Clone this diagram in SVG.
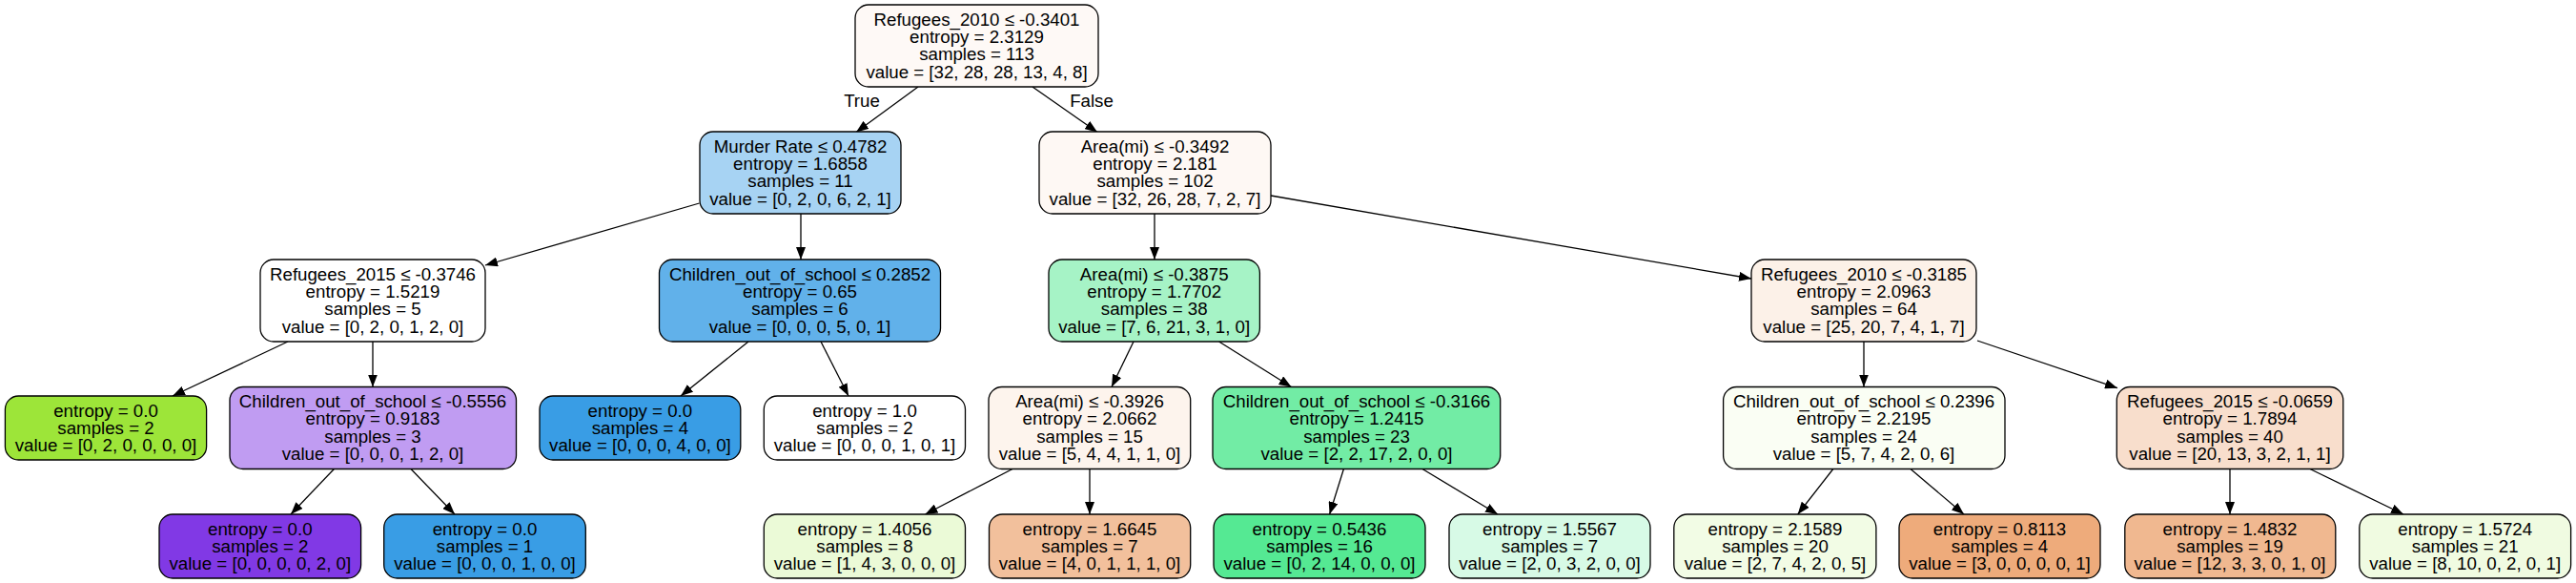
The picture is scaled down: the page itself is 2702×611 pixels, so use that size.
<svg xmlns="http://www.w3.org/2000/svg" width="2702" height="611" viewBox="0 0 2702 611">
<style>
.box{stroke:#000;stroke-width:1.3}
text{font-family:"Liberation Sans",Arial,sans-serif;font-size:18.7px;fill:#000;text-anchor:middle}
.edge{stroke:#000;stroke-width:1.3;fill:none;marker-end:url(#arr)}
</style>
<defs>
<marker id="arr" viewBox="0 0 13 10" refX="13" refY="5" markerWidth="13" markerHeight="10" markerUnits="userSpaceOnUse" orient="auto">
<path d="M0,0 L13,5 L0,10 z" fill="#000"/>
</marker>
</defs>
<rect width="2702" height="611" fill="#fff"/>
<g id="connectors">
<line class="edge" x1="963" y1="91" x2="898" y2="138.5"/>
<line class="edge" x1="1083" y1="91" x2="1151" y2="138.5"/>
<line class="edge" x1="733.5" y1="213" x2="509" y2="278"/>
<line class="edge" x1="840" y1="224" x2="840" y2="272"/>
<line class="edge" x1="1211" y1="224" x2="1211" y2="272"/>
<line class="edge" x1="1333" y1="205" x2="1837" y2="292"/>
<line class="edge" x1="302" y1="358" x2="181" y2="415"/>
<line class="edge" x1="391" y1="358" x2="391" y2="405.5"/>
<line class="edge" x1="785" y1="358" x2="714" y2="415"/>
<line class="edge" x1="861" y1="358" x2="890" y2="415"/>
<line class="edge" x1="1189" y1="358" x2="1166" y2="405.5"/>
<line class="edge" x1="1278.6" y1="358" x2="1354.5" y2="405.5"/>
<line class="edge" x1="1955" y1="358" x2="1955" y2="405.5"/>
<line class="edge" x1="2074" y1="357" x2="2221" y2="406.7"/>
<line class="edge" x1="350.4" y1="491.5" x2="305" y2="539"/>
<line class="edge" x1="431" y1="491.5" x2="477" y2="539"/>
<line class="edge" x1="1062" y1="491.5" x2="970.5" y2="539"/>
<line class="edge" x1="1143" y1="491.5" x2="1143" y2="539"/>
<line class="edge" x1="1409.4" y1="491.5" x2="1394.6" y2="539"/>
<line class="edge" x1="1492" y1="491.5" x2="1571" y2="539"/>
<line class="edge" x1="1922.8" y1="491.5" x2="1885.7" y2="539"/>
<line class="edge" x1="2004" y1="491.5" x2="2060" y2="539"/>
<line class="edge" x1="2339" y1="491.5" x2="2339" y2="539"/>
<line class="edge" x1="2423" y1="491.5" x2="2521" y2="539"/>
<text x="904" y="111.5">True</text>
<text x="1145" y="111.5">False</text>
</g>
<g id="n0"><rect class="box" x="897" y="5" width="255" height="86" rx="14" fill="#fef9f6"/>
<text x="1024.5" y="26.5">Refugees_2010 ≤ -0.3401</text><text x="1024.5" y="44.9">entropy = 2.3129</text><text x="1024.5" y="63.3">samples = 113</text><text x="1024.5" y="81.7">value = [32, 28, 28, 13, 4, 8]</text></g>
<g id="n1"><rect class="box" x="734" y="138" width="211" height="86" rx="14" fill="#a7d3f3"/>
<text x="839.5" y="159.5">Murder Rate ≤ 0.4782</text><text x="839.5" y="177.9">entropy = 1.6858</text><text x="839.5" y="196.3">samples = 11</text><text x="839.5" y="214.7">value = [0, 2, 0, 6, 2, 1]</text></g>
<g id="n2"><rect class="box" x="1090" y="138" width="243" height="86" rx="14" fill="#fef8f4"/>
<text x="1211.5" y="159.5">Area(mi) ≤ -0.3492</text><text x="1211.5" y="177.9">entropy = 2.181</text><text x="1211.5" y="196.3">samples = 102</text><text x="1211.5" y="214.7">value = [32, 26, 28, 7, 2, 7]</text></g>
<g id="n3"><rect class="box" x="273" y="272" width="236" height="86" rx="14" fill="#ffffff"/>
<text x="391" y="293.5">Refugees_2015 ≤ -0.3746</text><text x="391" y="311.9">entropy = 1.5219</text><text x="391" y="330.3">samples = 5</text><text x="391" y="348.7">value = [0, 2, 0, 1, 2, 0]</text></g>
<g id="n4"><rect class="box" x="691.5" y="272" width="295" height="86" rx="14" fill="#61b1ea"/>
<text x="839" y="293.5">Children_out_of_school ≤ 0.2852</text><text x="839" y="311.9">entropy = 0.65</text><text x="839" y="330.3">samples = 6</text><text x="839" y="348.7">value = [0, 0, 0, 5, 0, 1]</text></g>
<g id="n5"><rect class="box" x="1100" y="272" width="221.4" height="86" rx="14" fill="#a6f3c6"/>
<text x="1210.7" y="293.5">Area(mi) ≤ -0.3875</text><text x="1210.7" y="311.9">entropy = 1.7702</text><text x="1210.7" y="330.3">samples = 38</text><text x="1210.7" y="348.7">value = [7, 6, 21, 3, 1, 0]</text></g>
<g id="n6"><rect class="box" x="1837" y="272" width="236" height="86" rx="14" fill="#fcf1e8"/>
<text x="1955" y="293.5">Refugees_2010 ≤ -0.3185</text><text x="1955" y="311.9">entropy = 2.0963</text><text x="1955" y="330.3">samples = 64</text><text x="1955" y="348.7">value = [25, 20, 7, 4, 1, 7]</text></g>
<g id="n7"><rect class="box" x="5.4" y="415" width="211.2" height="67" rx="14" fill="#9de539"/>
<text x="111" y="436.5">entropy = 0.0</text><text x="111" y="454.9">samples = 2</text><text x="111" y="473.3">value = [0, 2, 0, 0, 0, 0]</text></g>
<g id="n8"><rect class="box" x="241" y="405.5" width="300.5" height="86" rx="14" fill="#c09cf2"/>
<text x="391" y="427">Children_out_of_school ≤ -0.5556</text><text x="391" y="445.4">entropy = 0.9183</text><text x="391" y="463.8">samples = 3</text><text x="391" y="482.2">value = [0, 0, 0, 1, 2, 0]</text></g>
<g id="n9"><rect class="box" x="566" y="415" width="210.8" height="67" rx="14" fill="#399de5"/>
<text x="671.4" y="436.5">entropy = 0.0</text><text x="671.4" y="454.9">samples = 4</text><text x="671.4" y="473.3">value = [0, 0, 0, 4, 0, 0]</text></g>
<g id="n10"><rect class="box" x="801.3" y="415" width="211.2" height="67" rx="14" fill="#ffffff"/>
<text x="907" y="436.5">entropy = 1.0</text><text x="907" y="454.9">samples = 2</text><text x="907" y="473.3">value = [0, 0, 0, 1, 0, 1]</text></g>
<g id="n11"><rect class="box" x="1037" y="405.5" width="211.7" height="86" rx="14" fill="#fdf4ed"/>
<text x="1143" y="427">Area(mi) ≤ -0.3926</text><text x="1143" y="445.4">entropy = 2.0662</text><text x="1143" y="463.8">samples = 15</text><text x="1143" y="482.2">value = [5, 4, 4, 1, 1, 0]</text></g>
<g id="n12"><rect class="box" x="1272" y="405.5" width="301.7" height="86" rx="14" fill="#72eca5"/>
<text x="1423" y="427">Children_out_of_school ≤ -0.3166</text><text x="1423" y="445.4">entropy = 1.2415</text><text x="1423" y="463.8">samples = 23</text><text x="1423" y="482.2">value = [2, 2, 17, 2, 0, 0]</text></g>
<g id="n13"><rect class="box" x="1807.6" y="405.5" width="295.4" height="86" rx="14" fill="#fafef4"/>
<text x="1955" y="427">Children_out_of_school ≤ 0.2396</text><text x="1955" y="445.4">entropy = 2.2195</text><text x="1955" y="463.8">samples = 24</text><text x="1955" y="482.2">value = [5, 7, 4, 2, 0, 6]</text></g>
<g id="n14"><rect class="box" x="2220.3" y="405.5" width="237.5" height="86" rx="14" fill="#f8decc"/>
<text x="2339" y="427">Refugees_2015 ≤ -0.0659</text><text x="2339" y="445.4">entropy = 1.7894</text><text x="2339" y="463.8">samples = 40</text><text x="2339" y="482.2">value = [20, 13, 3, 2, 1, 1]</text></g>
<g id="n15"><rect class="box" x="167" y="539" width="211.6" height="67" rx="14" fill="#8139e5"/>
<text x="272.8" y="560.5">entropy = 0.0</text><text x="272.8" y="578.9">samples = 2</text><text x="272.8" y="597.3">value = [0, 0, 0, 0, 2, 0]</text></g>
<g id="n16"><rect class="box" x="402.7" y="539" width="211.6" height="67" rx="14" fill="#399de5"/>
<text x="508.5" y="560.5">entropy = 0.0</text><text x="508.5" y="578.9">samples = 1</text><text x="508.5" y="597.3">value = [0, 0, 0, 1, 0, 0]</text></g>
<g id="n17"><rect class="box" x="801.3" y="539" width="211.2" height="67" rx="14" fill="#ebfad7"/>
<text x="907" y="560.5">entropy = 1.4056</text><text x="907" y="578.9">samples = 8</text><text x="907" y="597.3">value = [1, 4, 3, 0, 0, 0]</text></g>
<g id="n18"><rect class="box" x="1037.5" y="539" width="211.2" height="67" rx="14" fill="#f2c09c"/>
<text x="1143" y="560.5">entropy = 1.6645</text><text x="1143" y="578.9">samples = 7</text><text x="1143" y="597.3">value = [4, 0, 1, 1, 1, 0]</text></g>
<g id="n19"><rect class="box" x="1273" y="539" width="222" height="67" rx="14" fill="#55e993"/>
<text x="1384" y="560.5">entropy = 0.5436</text><text x="1384" y="578.9">samples = 16</text><text x="1384" y="597.3">value = [0, 2, 14, 0, 0, 0]</text></g>
<g id="n20"><rect class="box" x="1520" y="539" width="211" height="67" rx="14" fill="#d7fae6"/>
<text x="1625.5" y="560.5">entropy = 1.5567</text><text x="1625.5" y="578.9">samples = 7</text><text x="1625.5" y="597.3">value = [2, 0, 3, 2, 0, 0]</text></g>
<g id="n21"><rect class="box" x="1755.8" y="539" width="212.1" height="67" rx="14" fill="#f2fce5"/>
<text x="1862" y="560.5">entropy = 2.1589</text><text x="1862" y="578.9">samples = 20</text><text x="1862" y="597.3">value = [2, 7, 4, 2, 0, 5]</text></g>
<g id="n22"><rect class="box" x="1992" y="539" width="211" height="67" rx="14" fill="#eeab7b"/>
<text x="2097.5" y="560.5">entropy = 0.8113</text><text x="2097.5" y="578.9">samples = 4</text><text x="2097.5" y="597.3">value = [3, 0, 0, 0, 0, 1]</text></g>
<g id="n23"><rect class="box" x="2228.8" y="539" width="221" height="67" rx="14" fill="#f0b890"/>
<text x="2339" y="560.5">entropy = 1.4832</text><text x="2339" y="578.9">samples = 19</text><text x="2339" y="597.3">value = [12, 3, 3, 0, 1, 0]</text></g>
<g id="n24"><rect class="box" x="2474.8" y="539" width="221.8" height="67" rx="14" fill="#f0fbe1"/>
<text x="2585.7" y="560.5">entropy = 1.5724</text><text x="2585.7" y="578.9">samples = 21</text><text x="2585.7" y="597.3">value = [8, 10, 0, 2, 0, 1]</text></g>
</svg>
